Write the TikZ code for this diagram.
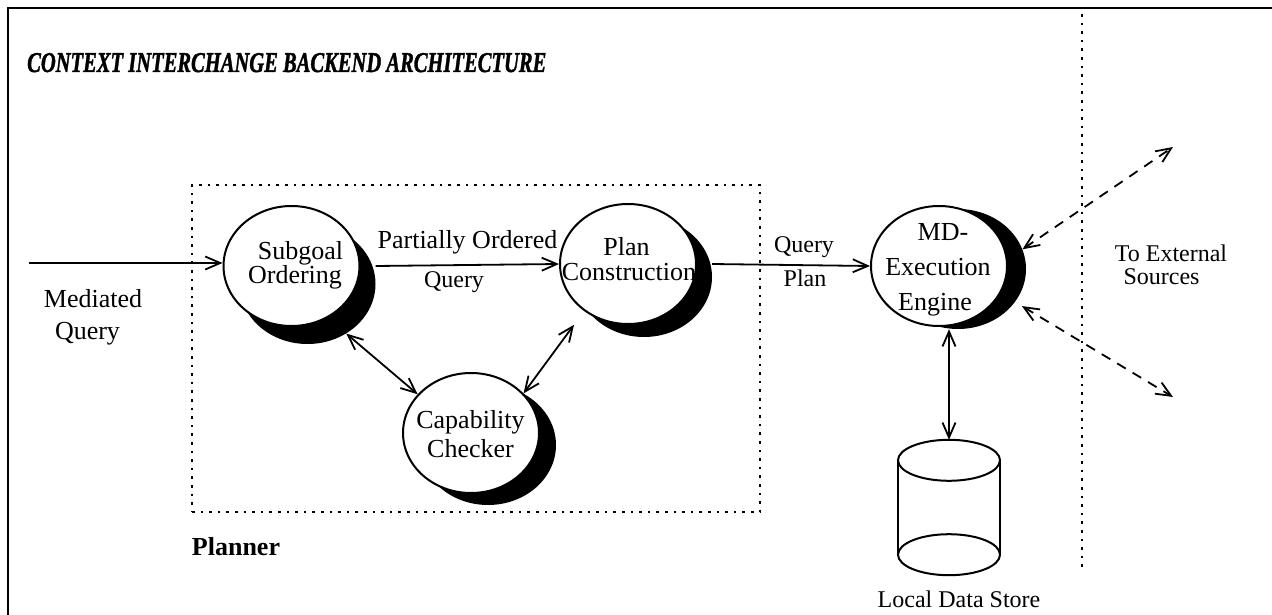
\documentclass[tikz,border=0pt]{standalone}
\usepackage{fontspec}
\setmainfont{Liberation Serif}
\newfontfamily\titlefont[BoldItalicFeatures={FakeBold=1.6}]{Liberation Serif}
\usepackage{graphicx}
\usetikzlibrary{arrows.meta,shapes.geometric,calc}
\tikzset{
 proc/.style={ellipse, draw, line width=2pt, fill=white, minimum width=136pt, minimum height=120pt, inner sep=0pt},
 shadowell/.style={ellipse, fill=black, minimum width=136pt, minimum height=120pt, inner sep=0pt},
 txt/.style={inner sep=0pt, anchor=base, font=\fontsize{26}{28}\selectfont},
 stxt/.style={inner sep=0pt, anchor=base, font=\fontsize{24}{26}\selectfont},
 mybarb/.tip={Straight Barb[length=15pt,width=13pt]},
 conn/.style={line width=1.8pt, -mybarb},
 bothconn/.style={line width=1.8pt, mybarb-mybarb},
 dashconn/.style={bothconn, dash pattern=on 10pt off 8pt},
 dotline/.style={line width=2.6pt, dash pattern=on 2.6pt off 6pt},
 frameline/.style={line width=2.6pt},
 cylline/.style={line width=2pt}
}
\begin{document}
\begin{tikzpicture}[x=1pt,y=-1pt]
\useasboundingbox (0,0) rectangle (1272,615);
\fill[white] (0,0) rectangle (1272,615);
% frame
\draw[frameline] (8,615) -- (8,8) -- (1272,8);
% title
\node[anchor=base west, inner sep=0pt] (title) at (27,72) {\resizebox{519pt}{19pt}{\titlefont\bfseries\itshape CONTEXT INTERCHANGE BACKEND ARCHITECTURE}};
% planner box
\node[draw, dotline, minimum width=568pt, minimum height=327pt, inner sep=0pt] (planner) at (476,348.5) {};
\node[txt, font=\fontsize{26}{28}\selectfont\bfseries] (plannerlbl) at (236,555) {Planner};
% separator
\coordinate (septop) at (1082,14);
\coordinate (sepbot) at (1082,570);
\draw[dotline] (septop) -- (sepbot);
% processes
\node[shadowell] (subS) at (307.5,284) {};
\node[proc] (sub) at (291.5,266) {};
\node[shadowell] (planS) at (644,277) {};
\node[proc] (plan) at (628,264) {};
\node[shadowell] (capS) at (488,445) {};
\node[proc] (cap) at (471,433) {};
\node[shadowell] (mdS) at (958,269) {};
\node[proc] (md) at (939,266) {};
% texts in processes
\node[txt] (t1) at (300.5,259) {Subgoal};
\node[txt] (t2) at (295,283) {Ordering};
\node[txt] (t3) at (626.5,255) {Plan};
\node[txt] (t4) at (629,280) {Construction};
\node[txt] (t5) at (470.5,428) {Capability};
\node[txt] (t6) at (470.5,457) {Checker};
\node[txt] (t7) at (943,240) {MD-};
\node[txt] (t8) at (938,275) {Execution};
\node[txt] (t9) at (935,310) {Engine};
% data store
\node[minimum width=102pt, minimum height=135pt, inner sep=0pt] (cyl) at (949,507.5) {};
\draw[cylline] ([yshift=-20.5pt]cyl.north) ellipse [x radius=51pt, y radius=20.5pt];
\draw[cylline] ([yshift=20.5pt]cyl.south) ellipse [x radius=51pt, y radius=20.5pt];
\draw[cylline] ([yshift=-20.5pt]cyl.north west) -- ([yshift=20.5pt]cyl.south west);
\draw[cylline] ([yshift=-20.5pt]cyl.north east) -- ([yshift=20.5pt]cyl.south east);
\node[stxt] (lds) at (959,607) {Local Data Store};
% labels
\node[txt] (mq1) at (93,307) {Mediated};
\node[txt] (mq2) at (87.5,339) {Query};
\node[txt] (po1) at (467.5,248) {Partially Ordered};
\node[stxt] (po2) at (454,287) {Query};
\node[stxt] (qp1) at (804,252) {Query};
\node[stxt] (qp2) at (805,286) {Plan};
\node[stxt] (ext1t) at (1171,261) {To External};
\node[stxt] (ext2t) at (1161.5,284) {Sources};
% connectors
\coordinate (mqin) at (29,263);
\draw[conn] (mqin) -- (mqin -| sub.west);
\draw[conn] (sub.east -| subS.east) -- (plan.west);
\draw[conn] (plan.east -| planS.east) -- (md.west);
\draw[bothconn] (subS.-52) -- (cap.144);
\draw[bothconn, shorten >=17pt] (cap.37) -- (plan.-133);
\draw[bothconn] (mdS.south -| cyl.north) -- (cyl.north);
\coordinate (ext1) at (1173,147);
\coordinate (ext2) at (1173,397);
\draw[dashconn] (mdS.17) -- (ext1);
\draw[dashconn, shorten <=8pt] (mdS.-30) -- (ext2);
\end{tikzpicture}
\end{document}
